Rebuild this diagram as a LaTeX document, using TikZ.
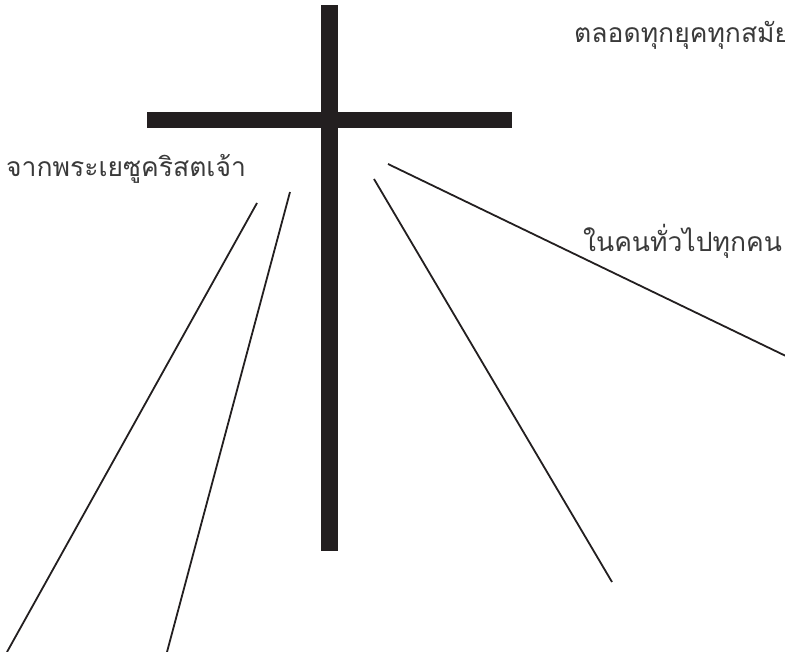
\documentclass[tikz,border=0pt]{standalone}
\usepackage{fontspec}
\newfontfamily\thaifont[Script=Thai]{Loma}
\definecolor{ink}{HTML}{231F20}
\definecolor{txt}{HTML}{3A3A3A}
\begin{document}
\begin{tikzpicture}[x=1pt,y=-1pt,
  bar/.style={fill=ink,draw=none},
  ray/.style={draw=ink,line width=1.8pt},
  lbl/.style={anchor=base west,inner sep=0pt,font=\thaifont\fontsize{26.5}{30}\selectfont,text=txt}]
\useasboundingbox (0,0) rectangle (785,652);
\clip (0,0) rectangle (785,652);
\fill[white] (0,0) rectangle (785,652);
% cross
\path[bar] (321,5) rectangle (338,551);
\path[bar] (147,112) rectangle (512,128);
% rays
\coordinate (r1a) at (257,203); \coordinate (r1b) at (7,652);
\coordinate (r2a) at (290,192); \coordinate (r2b) at (167,652);
\coordinate (r3a) at (374,179); \coordinate (r3b) at (612,582);
\coordinate (r4a) at (388,164); \coordinate (r4b) at (790,358);
\draw[ray] (r1a) -- (r1b);
\draw[ray] (r2a) -- (r2b);
\draw[ray] (r3a) -- (r3b);
\draw[ray] (r4a) -- (r4b);
% labels
\node[lbl] (t1) at (574,42.5) {ตลอดทุกยุคทุกสมัย};
\node[lbl] (t2) at (6,176.5) {จากพระเยซูคริสตเจ้า};
\node[lbl] (t3) at (583,251.5) {ในคนทั่วไปทุกคน};
\end{tikzpicture}
\end{document}
